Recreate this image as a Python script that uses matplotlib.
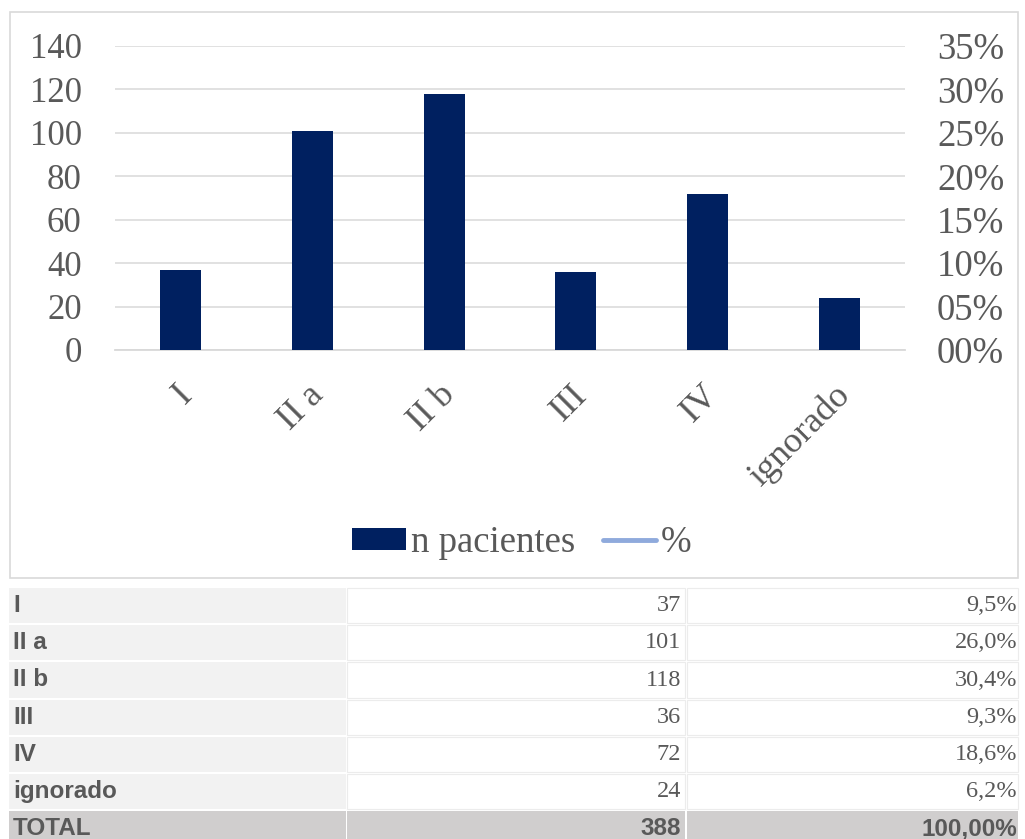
import matplotlib.pyplot as plt
from matplotlib.patches import Rectangle, Patch
from matplotlib.lines import Line2D
from matplotlib.transforms import ScaledTranslation
import numpy as np

# estadios y numero de pacientes
estadios = ["I", "II a", "II b", "III", "IV", "ignorado"]
n_pacientes = [37, 101, 118, 36, 72, 24]
porcentaje = ["9,5%", "26,0%", "30,4%", "9,3%", "18,6%", "6,2%"]
total_n = 388
total_pct = "100,00%"

azul = "#002060"
gris_txt = "#595959"
gris_linea = "#d9d9d9"

plt.rcParams["font.family"] = ["Liberation Serif", "DejaVu Serif"]

W, H = 1025, 839
fig = plt.figure(figsize=(W / 100, H / 100), dpi=100)

# capa de fondo en pixeles para el marco y la tabla
bg = fig.add_axes([0, 0, 1, 1])
bg.set_xlim(0, W)
bg.set_ylim(H, 0)
bg.axis("off")
bg.add_patch(Rectangle((10, 12), 1008, 566, facecolor="white", edgecolor=gris_linea, lw=1.2))

# grafico de barras
ax = fig.add_axes([115 / W, 1 - 350 / H, 790 / W, 304 / H])
x = np.arange(len(estadios))
ax.bar(x, n_pacientes, width=0.31, color=azul, zorder=3)
ax.set_xlim(-0.5, len(estadios) - 0.5)
ax.set_ylim(0, 140)
ax.set_yticks(range(0, 141, 20))
ax.yaxis.grid(True, color=gris_linea, lw=1.1, zorder=0)
ax.set_axisbelow(True)
for s in ["top", "left", "right"]:
    ax.spines[s].set_visible(False)
ax.spines["bottom"].set_color(gris_linea)
ax.spines["bottom"].set_linewidth(1.3)
ax.tick_params(axis="y", length=0, pad=24, labelsize=25, labelcolor=gris_txt)
ax.tick_params(axis="x", length=0, pad=29, labelsize=26, labelcolor=gris_txt)
ax.set_xticks(x)
ax.set_xticklabels(estadios, rotation=45, ha="right", va="center", rotation_mode="anchor")
desplaza = ScaledTranslation(6 / 100, 0, fig.dpi_scale_trans)
for lbl in ax.get_xticklabels():
    lbl.set_transform(lbl.get_transform() + desplaza)

# eje secundario de porcentaje
ax2 = ax.twinx()
ax2.set_ylim(0, 0.35)
ticks2 = np.arange(0, 0.351, 0.05)
ax2.set_yticks(ticks2)
ax2.set_yticklabels([f"{t * 100:02.0f}%" for t in ticks2])
ax2.tick_params(axis="y", length=0, pad=23, labelsize=26.5, labelcolor=gris_txt)
for s in ax2.spines.values():
    s.set_visible(False)

handles = [Patch(facecolor=azul), Line2D([], [], color="#8faadc", lw=3.5, solid_capstyle="round")]
fig.legend(handles, ["n pacientes", "%"], loc="center", bbox_to_anchor=(522 / W, 1 - 543 / H),
           ncol=2, frameon=False, fontsize=26.5, labelcolor=gris_txt,
           handlelength=1.45, handleheight=0.52, handletextpad=0.14, columnspacing=0.75)

# tabla inferior
sans_bold = dict(family=["Liberation Sans", "DejaVu Sans"],
                 weight="bold", color=gris_txt, fontsize=17.5)
serif = dict(family=["Liberation Serif", "DejaVu Serif"], color=gris_txt, fontsize=17.5)
cols = [(9, 337), (347, 338), (687, 331)]
y0, paso, alto = 588, 37.2, 35.2
for i, (e, n, p) in enumerate(zip(estadios, n_pacientes, porcentaje)):
    y = y0 + i * paso
    bg.add_patch(Rectangle((cols[0][0], y), cols[0][1], alto, facecolor="#f2f2f2", edgecolor="none"))
    for cx, cw in cols[1:]:
        bg.add_patch(Rectangle((cx, y), cw, alto, facecolor="white", edgecolor="#ececec", lw=0.8))
    yc = y + alto / 2
    bg.text(13, yc, e, ha="left", va="center", **sans_bold)
    bg.text(681, yc, str(n), ha="right", va="center", **serif)
    bg.text(1017, yc, p, ha="right", va="center", **serif)

y = y0 + len(estadios) * paso
for cx, cw in cols:
    bg.add_patch(Rectangle((cx, y), cw, alto, facecolor="#d0cece", edgecolor="none"))
yc = y + alto / 2
bg.text(13, yc, "TOTAL", ha="left", va="center", **sans_bold)
bg.text(681, yc, str(total_n), ha="right", va="center", **sans_bold)
bg.text(1017, yc, total_pct, ha="right", va="center", **sans_bold)

fig.savefig("out.png", dpi=100)
